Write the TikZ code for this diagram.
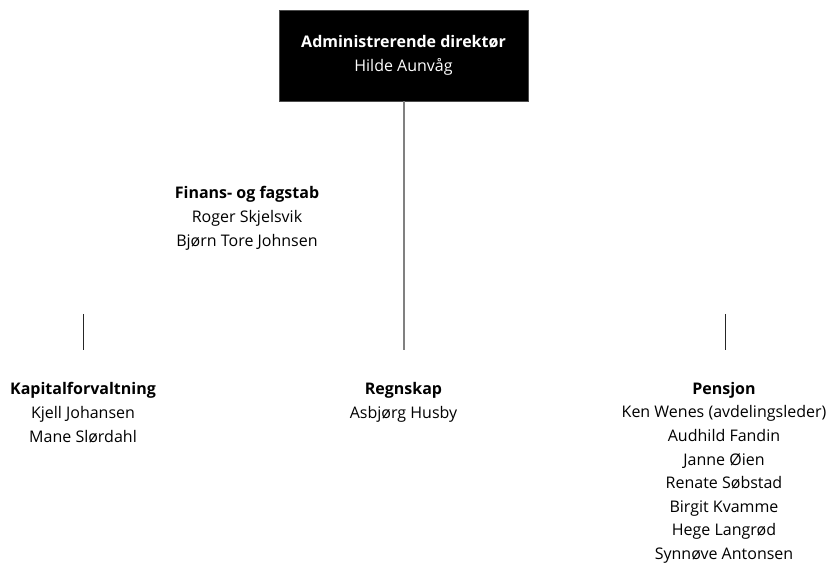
\documentclass[tikz,border=0pt]{standalone}
\usepackage{fontspec}
\setmainfont{Open Sans}
\usepackage{tikz}

\tikzset{
    unit/.style={align=center, inner sep=0pt, anchor=base,
        font=\fontsize{16}{24}\selectfont},
    chief/.style={fill=black, draw=black!70, text=white, align=center,
        minimum width=249pt, minimum height=91pt,
        font=\fontsize{16}{23.5}\selectfont},
    trunk/.style={draw=black!50, line width=2pt},
    stub/.style={draw=black!85, line width=0.9pt}
}

\begin{document}
\begin{tikzpicture}[x=1pt, y=-1pt]
    \useasboundingbox (0,0) rectangle (828,564);

    \node[chief] (ceo) at (403.5,55.5) {\textbf{Administrerende direktør}\\Hilde Aunvåg};

    % base anchor = baseline of the last line
    \node[unit] (stab) at (247,247) {\textbf{Finans- og fagstab}\\Roger Skjelsvik\\Bjørn Tore Johnsen};

    \node[unit] (kap) at (83,442.5) {\textbf{Kapitalforvaltning}\\Kjell Johansen\\Mane Slørdahl};
    \node[unit] (regn) at (403.5,418.5) {\textbf{Regnskap}\\Asbjørg Husby};
    \node[unit, font=\fontsize{16}{23.6}\selectfont] (pen) at (724,559.5) {\textbf{Pensjon}\\Ken Wenes (avdelingsleder)\\Audhild Fandin\\Janne Øien\\Renate Søbstad\\Birgit Kvamme\\Hege Langrød\\Synnøve Antonsen};

    \coordinate (regntop) at (403.5,350);
    \coordinate (kaptop) at (83,314);
    \coordinate (kapend) at (83,350);
    \coordinate (pentop) at (725,314);
    \coordinate (penend) at (725,350);

    \draw[trunk] (ceo.south) -- (regntop);
    \draw[stub] (kaptop) -- (kapend);
    \draw[stub] (pentop) -- (penend);
\end{tikzpicture}
\end{document}
